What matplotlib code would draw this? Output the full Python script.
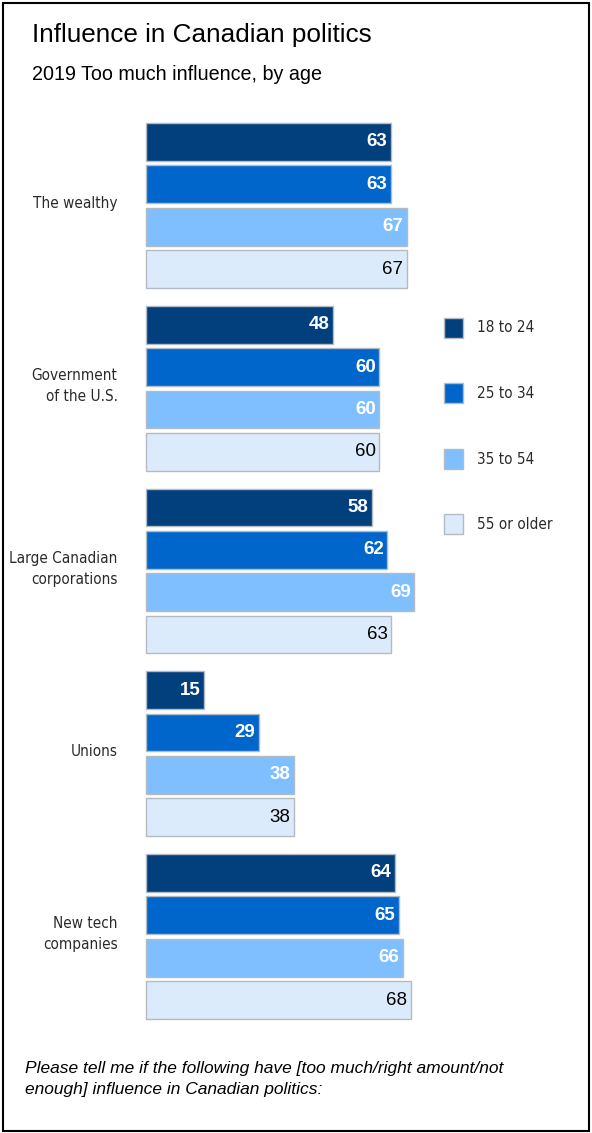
import numpy as np
import matplotlib.pyplot as plt
from matplotlib.patches import Rectangle

# data
categories = ["The wealthy", "Government\nof the U.S.", "Large Canadian\ncorporations", "Unions", "New tech\ncompanies"]
age_groups = ["18 to 24", "25 to 34", "35 to 54", "55 or older"]
v_18_24 = [63, 48, 58, 15, 64]
v_25_34 = [63, 60, 62, 29, 65]
v_35_54 = [67, 60, 69, 38, 66]
v_55_up = [67, 60, 63, 38, 68]

colors = ["#023F7D", "#0066CC", "#80BFFF", "#DCEBFB"]
label_colors = ["white", "white", "white", "black"]
label_weights = ["bold", "bold", "bold", "normal"]

sans = ["Liberation Sans", "DejaVu Sans"]
narrow = ["DejaVu Sans"]

W, H = 592, 1133
fig = plt.figure(figsize=(W / 100, H / 100), dpi=100)

# frame around the figure
fig.patches.append(Rectangle((3 / W, 2 / H), 586 / W, 1128 / H, transform=fig.transFigure,
                             fill=False, edgecolor="black", linewidth=1.5))

fig.text(32 / W, 1 - 35 / H, "Influence in Canadian politics", family=sans, fontsize=18.8, va="center")
fig.text(32 / W, 1 - 75 / H, "2019 Too much influence, by age", family=sans, fontsize=14.2, va="center")
fig.text(25 / W, 1 - 1079 / H,
         "Please tell me if the following have [too much/right amount/not\nenough] influence in Canadian politics:",
         family=sans, fontsize=12.5, style="italic", va="center", linespacing=1.55)

# axes: bar pitch 1 unit, group step 4.31 units
group_step = 4.31
bar_h = 0.89
top_px, bot_px = 123, 1019
ax = fig.add_axes([146 / W, 1 - bot_px / H, 389 / W, (bot_px - top_px) / H])
ax.set_xlim(0, 100)
ax.set_ylim(4 * group_step + 3 + bar_h / 2, -bar_h / 2)
ax.axis("off")

series = [v_18_24, v_25_34, v_35_54, v_55_up]
for i, vals in enumerate(series):
    ys = np.arange(len(categories)) * group_step + i
    bars = ax.barh(ys, vals, height=bar_h, color=colors[i], edgecolor="#B3BAC2", linewidth=1)
    for b in bars:
        b.set_clip_on(False)
    for y, v in zip(ys, vals):
        ax.annotate(str(v), (v, y), xytext=(-2.5, 0), textcoords="offset points",
                    ha="right", va="center", color=label_colors[i], fontweight=label_weights[i],
                    family=sans, fontsize=13.5)

for g, cat in enumerate(categories):
    ax.text(-7.3, g * group_step + 1.45, cat, ha="right", va="center", family=narrow,
            fontstretch="condensed", fontsize=11, linespacing=1.5, color="#2a2a2a")

# legend
leg_y = [328, 393, 459, 524]
for i, lab in enumerate(age_groups):
    fig.patches.append(Rectangle((444 / W, 1 - (leg_y[i] + 10) / H), 19 / W, 20 / H,
                                 transform=fig.transFigure, facecolor=colors[i],
                                 edgecolor="#B3BAC2", linewidth=1))
    fig.text(477 / W, 1 - leg_y[i] / H, lab, family=narrow, fontstretch="condensed",
             fontsize=11, va="center", color="#2a2a2a")

fig.savefig("out.png", dpi=100)
